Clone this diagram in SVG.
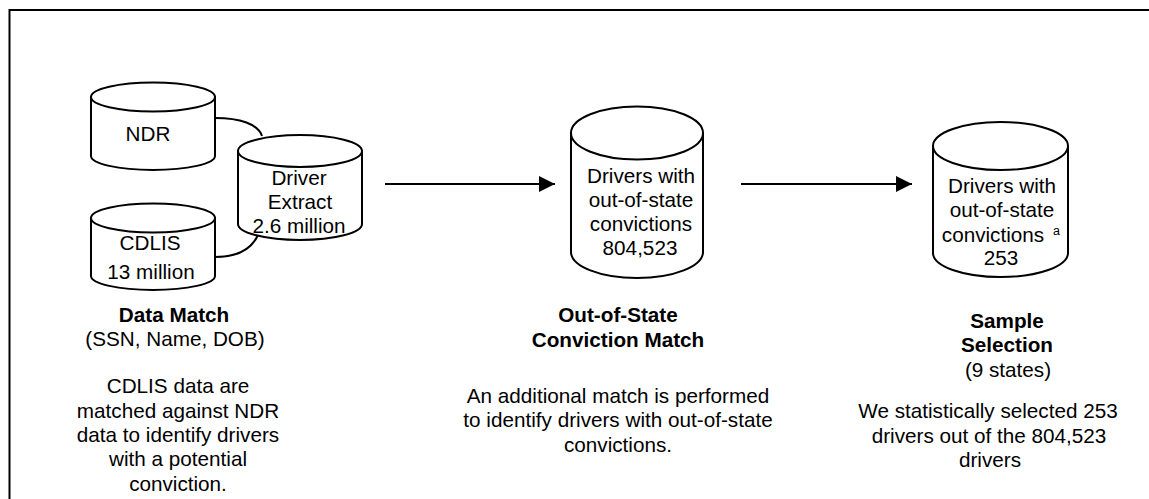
<svg xmlns="http://www.w3.org/2000/svg" width="1149" height="499" viewBox="0 0 1149 499">
<defs>
<style>
text{font-family:"Liberation Sans",Arial,sans-serif;font-size:20.7px;fill:#000;text-anchor:middle}
.b{font-weight:bold}
.cyl{fill:#fff;stroke:#000;stroke-width:2}
.conn{fill:none;stroke:#000;stroke-width:2}
.sup{font-size:12.5px;text-anchor:start}
</style>
<marker id="ah" viewBox="0 0 16 16" refX="16" refY="8" markerWidth="16" markerHeight="16" markerUnits="userSpaceOnUse" orient="auto">
<path d="M0,0 L16,8 L0,16 Z" fill="#000"/>
</marker>
</defs>
<rect x="0" y="0" width="1149" height="499" fill="#fff"/>
<rect x="9.5" y="10" width="1160" height="510" fill="none" stroke="#000" stroke-width="2"/>
<g id="connectors">
<path class="conn" d="M215,118 C240,118 258,124 262,136"/>
<path class="conn" d="M215,257 C238,257 252,248 258,235"/>
<line class="conn" x1="385" y1="184" x2="555" y2="184" marker-end="url(#ah)"/>
<line class="conn" x1="741" y1="184" x2="912" y2="184" marker-end="url(#ah)"/>
</g>
<g id="ndr">
<path class="cyl" d="M91,97 L91,156 A62,14 0 0 0 215,156 L215,97 Z"/>
<ellipse class="cyl" cx="153" cy="97" rx="62" ry="14.5"/>
<text x="148" y="141">NDR</text>
</g>
<g id="cdlis">
<path class="cyl" d="M91,218 L91,276 A62,14 0 0 0 215,276 L215,218 Z"/>
<ellipse class="cyl" cx="153" cy="218" rx="62" ry="14.5"/>
<text x="150" y="250">CDLIS</text>
<text x="151" y="279">13 million</text>
</g>
<g id="driver-extract">
<path class="cyl" d="M238,151 L238,224 A62,16 0 0 0 362,224 L362,151 Z"/>
<ellipse class="cyl" cx="300" cy="151" rx="62" ry="16"/>
<text x="299" y="185">Driver</text>
<text x="300" y="209">Extract</text>
<text x="299" y="233">2.6 million</text>
</g>
<g id="out-of-state">
<path class="cyl" d="M571,133 L571,252 A66,26 0 0 0 703,252 L703,133 Z"/>
<ellipse class="cyl" cx="637" cy="133" rx="66" ry="26.5"/>
<text x="641" y="183">Drivers with</text>
<text x="641" y="207">out-of-state</text>
<text x="641" y="231">convictions</text>
<text x="640" y="255">804,523</text>
</g>
<g id="sample">
<path class="cyl" d="M933,146 L933,253 A67.5,24 0 0 0 1068,253 L1068,146 Z"/>
<ellipse class="cyl" cx="1000.5" cy="146" rx="67.5" ry="24"/>
<text x="1002" y="193">Drivers with</text>
<text x="1002" y="217">out-of-state</text>
<text x="993" y="242">convictions</text>
<text class="sup" x="1053" y="235">a</text>
<text x="1001" y="265">253</text>
</g>
<g id="label-data-match">
<text class="b" x="174" y="322">Data Match</text>
<text x="175" y="346">(SSN, Name, DOB)</text>
<text x="178" y="393">CDLIS data are</text>
<text x="178" y="418">matched against NDR</text>
<text x="178" y="442">data to identify drivers</text>
<text x="178" y="466">with a potential</text>
<text x="178" y="491">conviction.</text>
</g>
<g id="label-oos">
<text class="b" x="618" y="322">Out-of-State</text>
<text class="b" x="618" y="347">Conviction Match</text>
<text x="618" y="403">An additional match is performed</text>
<text x="618" y="427">to identify drivers with out-of-state</text>
<text x="618" y="452">convictions.</text>
</g>
<g id="label-sample">
<text class="b" x="1007" y="328">Sample</text>
<text class="b" x="1007" y="352">Selection</text>
<text x="1008" y="377">(9 states)</text>
<text x="988" y="418">We statistically selected 253</text>
<text x="989" y="443">drivers out of the 804,523</text>
<text x="990" y="467">drivers</text>
</g>
</svg>
